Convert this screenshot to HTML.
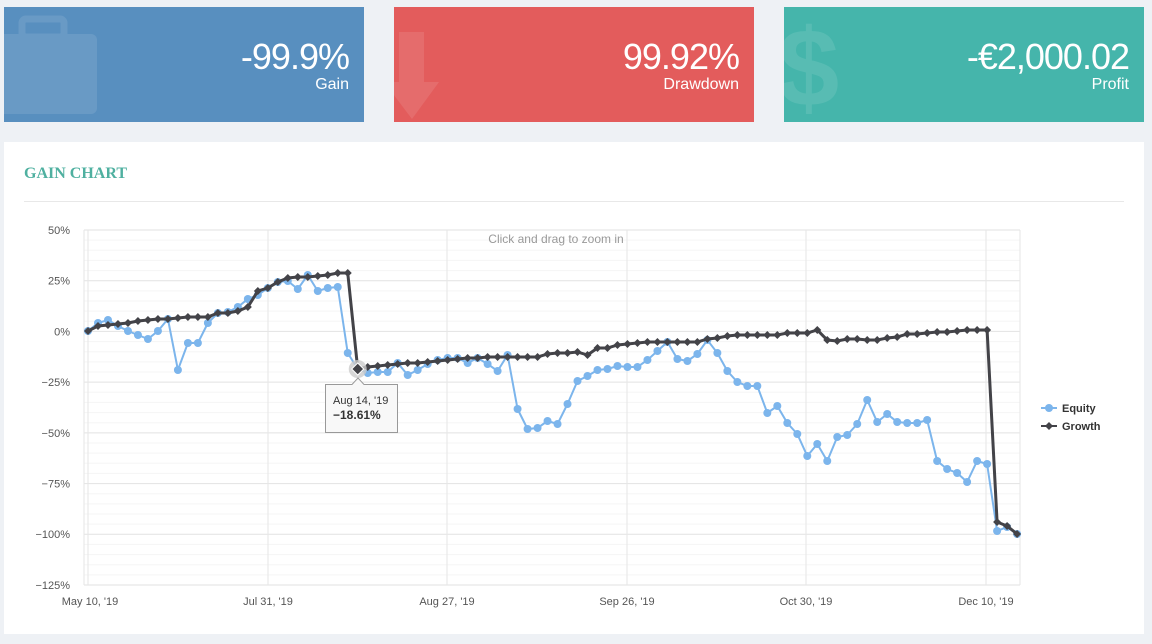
<!DOCTYPE html>
<html><head><meta charset="utf-8">
<style>
body{margin:0;width:1152px;height:644px;background:#eef1f5;font-family:"Liberation Sans",sans-serif;position:relative;overflow:hidden}
.card{position:absolute;top:7px;width:360px;height:115px;color:#fff;overflow:hidden}
.card .v{position:absolute;right:15px;top:30px;font-size:36px;line-height:40px;letter-spacing:-1px}
.card .l{position:absolute;right:15px;top:69px;font-size:16px}
.panel{position:absolute;left:4px;top:142px;width:1140px;height:492px;background:#fff}
.title{position:absolute;left:20px;top:23px;font-size:16px;font-weight:bold;color:#4fb0a0;font-family:"Liberation Serif",serif}
.hr{position:absolute;left:20px;right:20px;top:59px;height:1px;background:#e8e8e8}
</style></head><body>
<div class="card" style="left:4px;background:#588fbf">
 <svg width="100" height="115" style="position:absolute;left:0;top:0"><g fill="#fff" opacity="0.1"><rect x="18" y="12" width="42" height="18" rx="4" fill="none" stroke="#fff" stroke-width="7"/><rect x="-10" y="27" width="103" height="80" rx="6"/></g></svg>
 <div class="v">-99.9%</div><div class="l">Gain</div></div>
<div class="card" style="left:394px;background:#e35c5c">
 <svg width="100" height="115" style="position:absolute;left:0;top:0"><g fill="#fff" opacity="0.1"><polygon points="5,25 30,25 30,75 45,75 18,112 -10,75 5,75"/></g></svg>
 <div class="v">99.92%</div><div class="l">Drawdown</div></div>
<div class="card" style="left:784px;background:#45b5ab">
 <div style="position:absolute;left:-6px;top:-2px;font-size:110px;color:#fff;opacity:0.1;font-weight:bold">$</div>
 <div class="v">-€2,000.02</div><div class="l">Profit</div></div>
<div class="panel"><div class="title">GAIN CHART</div><div class="hr"></div></div>
<svg id="c" width="1152" height="644" style="position:absolute;left:0;top:0" font-family="Liberation Sans, sans-serif"></svg>
<script>
var eq=[331,323,320,326,331,335,339,331,319,370,343,343,323,313,312,307,299,295,288,282,281,289,275,291,288,287,353,369,373,372,372,363,375,370,364,360,358,358,363,358,364,371,355,409,429,428,421,424,404,381,376,370,369,366,367,367,360,351,342,359,361,354,340,353,371,382,386,386,413,406,423,434,456,444,461,437,435,424,400,422,414,422,423,423,420,461,469,473,482,461,464,531,527,534];
var gr=[331,326,325,324,323,321,320,319,319,318,317,317,317,313,313,311,307,291,288,282,278,277,277,276,275,273,273,369,367,366,365,364,363,363,362,361,360,359,358,358,357,357,357,357,357,357,354,353,353,352,355,348,348,345,344,343,342,342,342,342,342,342,339,338,336,335,335,335,335,335,333,333,333,330,340,341,339,339,340,340,338,337,334,334,333,332,332,331,330,330,330,522,526,534];
var s='';
function X(i){return 88+i*9.99}
for(var k=0;k<=35;k++){var y=230+k*355/35;s+='<line x1="84" x2="1020" y1="'+y+'" y2="'+y+'" stroke="'+(k%5==0?'#e2e2e2':'#f5f5f5')+'"/>';}
[88,268,447,627,806,986].forEach(function(x){s+='<line x1="'+x+'" x2="'+x+'" y1="230" y2="585" stroke="#e6e6e6"/>';});
s+='<line x1="84" x2="84" y1="230" y2="585" stroke="#e6e6e6"/><line x1="1020" x2="1020" y1="230" y2="585" stroke="#e6e6e6"/>';
['50%','25%','0%','−25%','−50%','−75%','−100%','−125%'].forEach(function(t,k){s+='<text x="70" y="'+(234+k*50.7)+'" font-size="11" fill="#555" text-anchor="end">'+t+'</text>';});
[['May 10, \'19',90],['Jul 31, \'19',268],['Aug 27, \'19',447],['Sep 26, \'19',627],['Oct 30, \'19',806],['Dec 10, \'19',986]].forEach(function(a){s+='<text x="'+a[1]+'" y="605" font-size="11" fill="#555" text-anchor="middle">'+a[0]+'</text>';});
s+='<text x="556" y="243" font-size="12" fill="#999" text-anchor="middle">Click and drag to zoom in</text>';
var p=eq.map(function(v,i){return X(i)+','+v}).join(' ');
s+='<polyline points="'+p+'" fill="none" stroke="#7cb5ec" stroke-width="2"/>';
eq.forEach(function(v,i){s+='<circle cx="'+X(i)+'" cy="'+v+'" r="4" fill="#7cb5ec"/>';});
p=gr.map(function(v,i){return X(i)+','+v}).join(' ');
s+='<polyline points="'+p+'" fill="none" stroke="#434348" stroke-width="3"/>';
gr.forEach(function(v,i){var x=X(i);s+='<polygon points="'+x+','+(v-4)+' '+(x+4)+','+v+' '+x+','+(v+4)+' '+(x-4)+','+v+'" fill="#434348"/>';});
s+='<circle cx="'+X(27)+'" cy="369" r="9" fill="#ccc" opacity="0.8"/><polygon points="'+X(27)+',363 '+(X(27)+6)+',369 '+X(27)+',375 '+(X(27)-6)+',369" fill="#434348" stroke="#fff"/>';
s+='<path d="M325.5,384.5 H352 L358,378 L364,384.5 H397.5 V432.5 H325.5 Z" fill="#f8f8f8" stroke="#999"/>';
s+='<text x="333" y="404" font-size="11" fill="#333">Aug 14, \'19</text><text x="333" y="419" font-size="12" font-weight="bold" fill="#333">−18.61%</text>';
s+='<line x1="1041" x2="1057" y1="408" y2="408" stroke="#7cb5ec" stroke-width="2"/><circle cx="1049" cy="408" r="4" fill="#7cb5ec"/><text x="1062" y="412" font-size="11" font-weight="bold" fill="#333">Equity</text>';
s+='<line x1="1041" x2="1057" y1="426" y2="426" stroke="#434348" stroke-width="2"/><polygon points="1049,422 1053,426 1049,430 1045,426" fill="#434348"/><text x="1062" y="430" font-size="11" font-weight="bold" fill="#333">Growth</text>';
document.getElementById('c').innerHTML=s;
</script>
</body></html>
